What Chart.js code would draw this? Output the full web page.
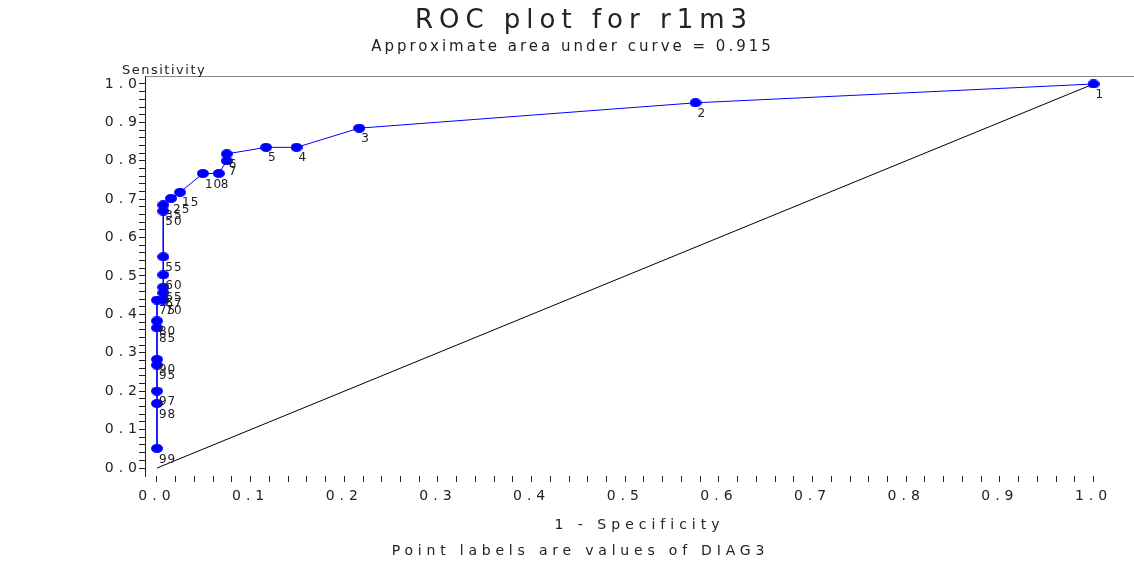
<!DOCTYPE html>
<html>
<head>
<meta charset="utf-8">
<script src="https://cdn.jsdelivr.net/npm/chart.js@4.4.1/dist/chart.umd.min.js"></script>
<style>
html, body { margin: 0; padding: 0; background: #fff; }
canvas { display: block; }
</style>
</head>
<body>
<canvas id="roc_plot" width="1134" height="561"></canvas>
<script>

// values of DIAG3 used as point labels
const pointLabels = ['1', '2', '3', '4', '5', '6', '7', '8', '10', '15', '25', '35', '50',
	'55', '60', '65', '67', '70', '75', '80', '85', '90', '95', '97', '98', '99'];
const oneMinusSpec = [1.0, 0.575, 0.216, 0.149, 0.1165, 0.0745, 0.0745, 0.066, 0.049, 0.0246, 0.015, 0.0067, 0.0067,
	0.0067, 0.0067, 0.0067, 0.0067, 0.0067, 0.0, 0.0, 0.0, 0.0, 0.0, 0.0, 0.0, 0.0];
const sensitivity = [1.0, 0.951, 0.885, 0.835, 0.835, 0.818, 0.800, 0.767, 0.767, 0.718, 0.702, 0.685, 0.669,
	0.550, 0.503, 0.471, 0.456, 0.4375, 0.4375, 0.383, 0.365, 0.283, 0.268, 0.2005, 0.168, 0.051];

const diagonalX = [0, 1];
const diagonalY = [0, 1];

const tickLabels = ['0.0', '0.1', '0.2', '0.3', '0.4', '0.5', '0.6', '0.7', '0.8', '0.9', '1.0'];
const minorPerMajor = 5;

const titleText = 'ROC plot for r1m3';
const subtitleText = 'Approximate area under curve = 0.915';
const yTitleText = 'Sensitivity';
const xTitleText = '1 - Specificity';
const footText = 'Point labels are values of DIAG3';

const FONT = '"DejaVu Sans", "Liberation Sans", sans-serif';
const INK = '#222';

// every 0.02 a tick, a label every 0.1
function buildTicks() {
	const out = [];
	for (let i = 0; i <= (tickLabels.length - 1) * minorPerMajor; i++) {
		out.push({ value: i / ((tickLabels.length - 1) * minorPerMajor) });
	}
	return out;
}
function tickText(value, index) {
	return index % minorPerMajor === 0 ? tickLabels[index / minorPerMajor] : '';
}

function spacedText(ctx, text, x, y, size, spacing, align) {
	ctx.save();
	ctx.font = size + 'px ' + FONT;
	ctx.letterSpacing = spacing + 'px';
	ctx.fillStyle = INK;
	ctx.textBaseline = 'middle';
	ctx.textAlign = 'left';
	const w = ctx.measureText(text).width - spacing;
	let sx = x;
	if (align === 'center') sx = x - w / 2;
	if (align === 'right') sx = x - w;
	ctx.fillText(text, sx, y);
	ctx.restore();
}

// SAS style dot, a bit wider than high
const dot = document.createElement('canvas');
dot.width = 12;
dot.height = 9;
{
	const d = dot.getContext('2d');
	d.fillStyle = '#0000ff';
	d.beginPath();
	d.ellipse(6, 4.5, 6, 4.5, 0, 0, Math.PI * 2);
	d.fill();
}

const sasText = {
	id: 'sasText',
	beforeDraw(chart) {
		chart.ctx.letterSpacing = '5px';
	},
	afterDatasetsDraw(chart) {
		const ctx = chart.ctx;
		const meta = chart.getDatasetMeta(0);
		ctx.save();
		ctx.font = '12px ' + FONT;
		ctx.letterSpacing = '1px';
		ctx.fillStyle = INK;
		ctx.textAlign = 'left';
		ctx.textBaseline = 'middle';
		meta.data.forEach((pt, i) => {
			ctx.fillText(pointLabels[i], pt.x + 2, pt.y + 11);
		});
		ctx.restore();
	},
	afterDraw(chart) {
		const ctx = chart.ctx;
		spacedText(ctx, titleText, 581, 21, 26, 6, 'center');
		spacedText(ctx, subtitleText, 571, 47, 15, 3, 'center');
		spacedText(ctx, yTitleText, 122, 71, 13, 1.5, 'left');
		spacedText(ctx, footText, 578, 551, 14, 4.8, 'center');
		ctx.letterSpacing = '0px';
	}
};

const rocData = oneMinusSpec.map((x, i) => ({ x: x, y: sensitivity[i] }));
const diagData = diagonalX.map((x, i) => ({ x: x, y: diagonalY[i] }));

Chart.defaults.color = INK;
Chart.defaults.font.family = FONT;

const ctx = document.getElementById('roc_plot').getContext('2d');
const rocChart = new Chart(ctx, {
	type: 'scatter',
	data: {
		datasets: [{
			label: 'ROC',
			data: rocData,
			showLine: true,
			borderColor: '#0000ff',
			borderWidth: 1,
			pointStyle: dot,
			pointRadius: 5,
			pointBorderWidth: 0
		}, {
			label: 'diagonal',
			data: diagData,
			showLine: true,
			borderColor: '#000000',
			borderWidth: 1,
			pointRadius: 0
		}]
	},
	options: {
		responsive: false,
		animation: false,
		layout: { padding: 0, autoPadding: false },
		plugins: {
			legend: { display: false },
			tooltip: { enabled: false }
		},
		scales: {
			x: {
				type: 'linear',
				position: 'bottom',
				min: -0.0128,
				max: 1.0432,
				afterBuildTicks: (scale) => { scale.ticks = buildTicks(); },
				afterFit: (scale) => { scale.height = 85; },
				grid: {
					drawOnChartArea: false,
					tickLength: 6,
					tickColor: INK
				},
				border: { display: false },
				ticks: {
					autoSkip: false,
					maxRotation: 0,
					minRotation: 0,
					padding: 6,
					font: { size: 14 },
					callback: tickText
				},
				title: {
					display: true,
					text: xTitleText,
					font: { size: 14 },
					padding: { top: 0, bottom: 27 }
				}
			},
			x2: {
				type: 'linear',
				position: 'top',
				min: 0,
				max: 1,
				afterFit: (scale) => { scale.height = 76; },
				grid: { display: false },
				ticks: { display: false },
				border: { display: true, color: '#888', width: 1 }
			},
			y: {
				type: 'linear',
				position: 'left',
				min: -0.0208,
				max: 1.0208,
				afterBuildTicks: (scale) => { scale.ticks = buildTicks(); },
				afterFit: (scale) => { scale.width = 145; },
				grid: {
					drawOnChartArea: false,
					tickLength: 6,
					tickColor: INK
				},
				border: { display: true, color: INK, width: 1 },
				ticks: {
					autoSkip: false,
					padding: -3,
					font: { size: 14 },
					callback: tickText
				}
			}
		}
	},
	plugins: [sasText]
});
</script>
</body>
</html>
